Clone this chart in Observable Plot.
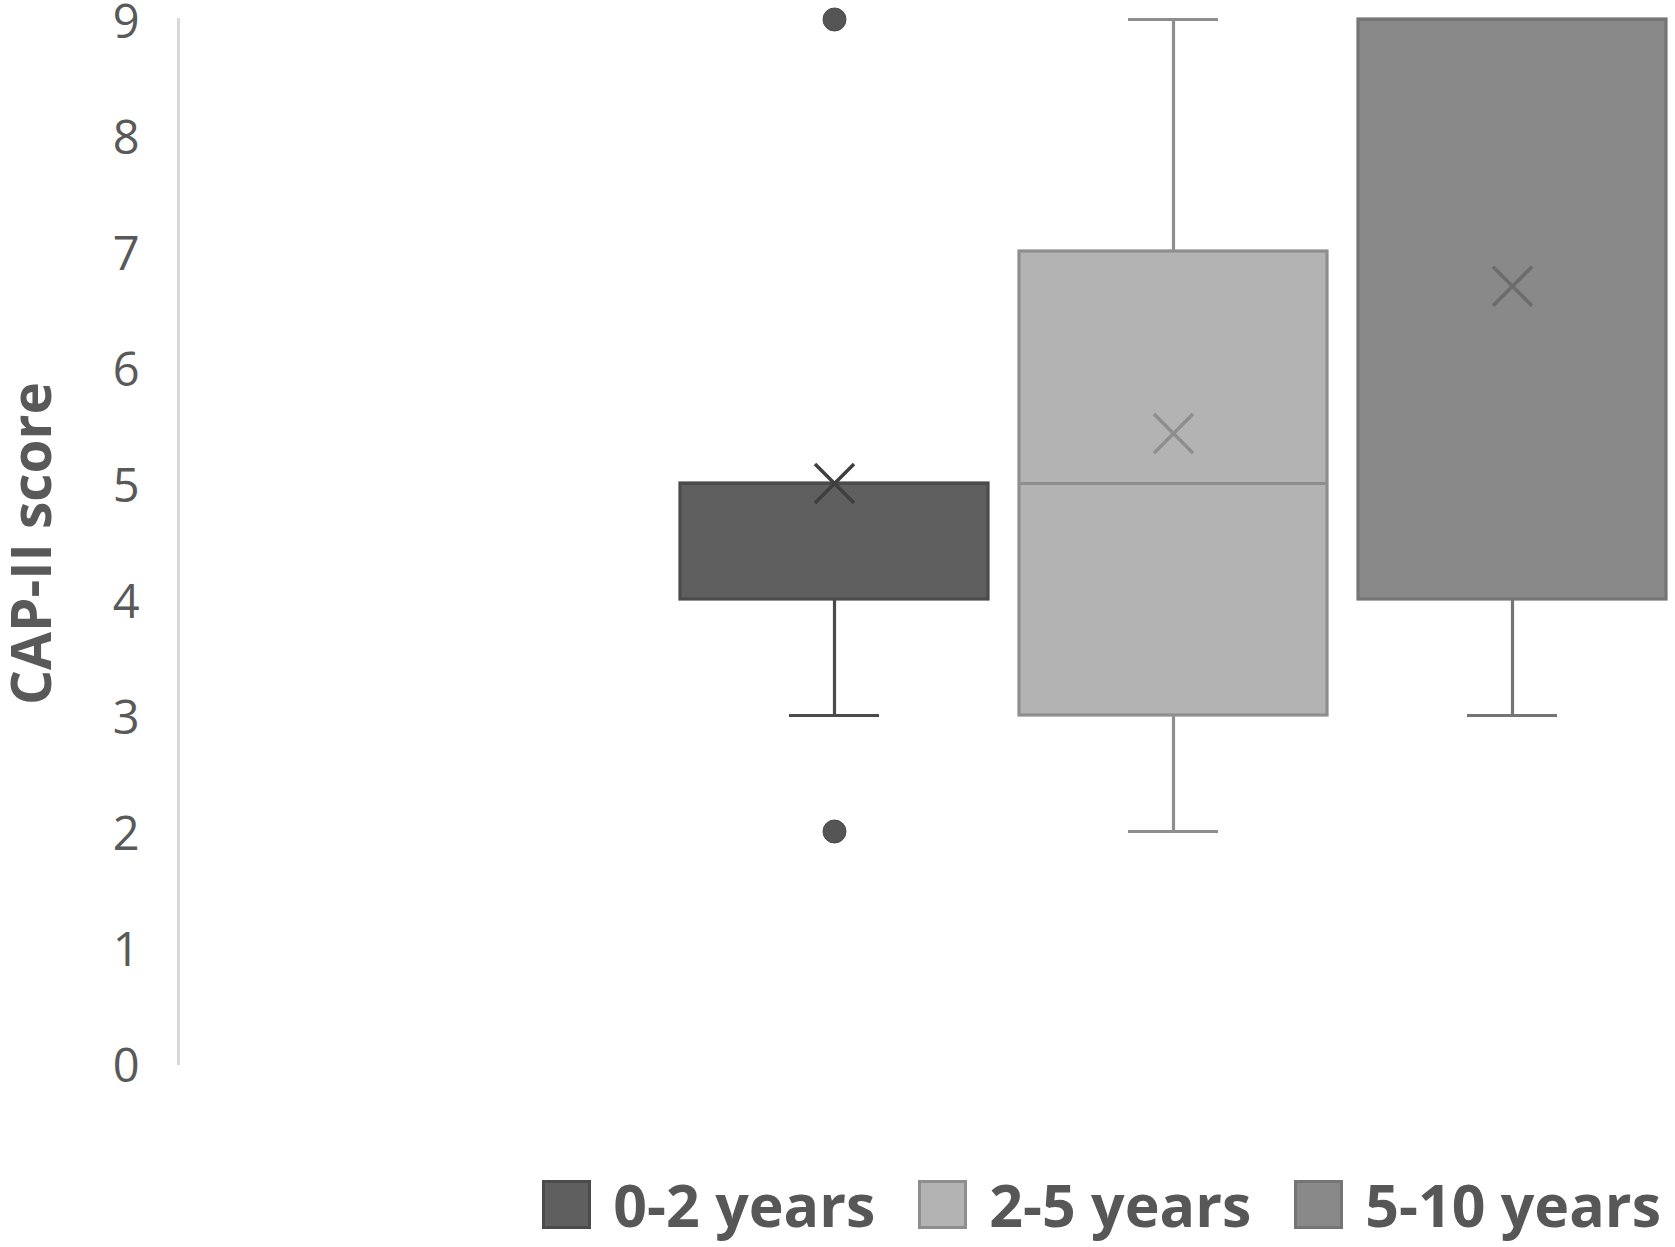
<!DOCTYPE html>
<html>
<head>
<meta charset="utf-8">
<script src="https://cdn.jsdelivr.net/npm/d3@7"></script>
<script src="https://cdn.jsdelivr.net/npm/@observablehq/plot@0.6"></script>
<style>
  html, body { margin: 0; padding: 0; background: #ffffff; }
  body { width: 1675px; height: 1247px; overflow: hidden; font-family: "Open Sans", sans-serif; }
  #chart svg { overflow: visible; display: block; }
  #legend { display: flex; justify-content: flex-end; align-items: center; padding-right: 14px; margin-top: 64px; height: 60px; }
  .item { display: flex; align-items: center; margin-left: 43px; }
  .swatch { width: 43px; height: 43px; border: 3px solid; margin-right: 22px; }
  .lab { font-family: "Open Sans", sans-serif; font-weight: 700; font-size: 59px; line-height: 60px; color: #575757; white-space: nowrap; }
</style>
</head>
<body>
<div id="chart"></div>
<div id="legend"></div>
<script>
// ---- data ----
const groups = ["0-2 years", "2-5 years", "5-10 years"];
const q1 = [4, 3, 4];
const medians = [5, 5, 9];
const q3 = [5, 7, 9];
const whiskerLow = [3, 2, 3];
const whiskerHigh = [5, 9, 9];
const means = [5.0, 5.43, 6.7];
const outlierGroups = ["0-2 years", "0-2 years"];
const outlierValues = [9, 2];
const yTicks = [0, 1, 2, 3, 4, 5, 6, 7, 8, 9];
const yTitle = "CAP-II score";

// ---- colours ----
const fillColors = ["#5f5f5f", "#b3b3b3", "#898989"];
const strokeColors = ["#4b4b4b", "#8e8e8e", "#757575"];
const meanColors = ["#3f3f3f", "#8e8e8e", "#6c6c6c"];

const rows = groups.map((g, i) => ({
  group: g, q1: q1[i], median: medians[i], q3: q3[i],
  lo: whiskerLow[i], hi: whiskerHigh[i], mean: means[i], idx: i
}));
const caps = [];
rows.forEach(r => {
  if (r.lo < r.q1) caps.push({group: r.group, v: r.lo, idx: r.idx});
  if (r.hi > r.q3) caps.push({group: r.group, v: r.hi, idx: r.idx});
});
const outliers = outlierGroups.map((g, i) => ({group: g, v: outlierValues[i]}));

const W = 1675, H = 1110;
const chart = Plot.plot({
  width: W,
  height: H,
  marginLeft: 178,
  marginRight: 0,
  marginTop: 19,
  marginBottom: 47,
  style: {fontFamily: "Open Sans", fontSize: "48px", color: "#595959", background: "white", overflow: "visible"},
  x: {type: "band", domain: groups, range: [663, 1682], paddingInner: 0.092, paddingOuter: 0.046, axis: null},
  y: {domain: [0, 9], axis: null},
  marks: [
    Plot.frame({anchor: "left", stroke: "#d9d9d9", strokeWidth: 3}),
    Plot.axisY({ticks: yTicks, tickSize: 0, tickPadding: 39, dy: 3, tickFormat: d => String(d), label: null, fontSize: 47, fill: "#595959"}),
    Plot.text([yTitle], {frameAnchor: "left", text: d => d, rotate: -90, dx: -145, dy: 2, fontSize: 55, fontWeight: "bold", fill: "#595959", lineAnchor: "middle", textAnchor: "middle"}),
    Plot.ruleX(rows, {x: "group", y1: "lo", y2: "hi", stroke: d => strokeColors[d.idx], strokeWidth: 3.2}),
    Plot.tickY(caps, {x: "group", y: "v", stroke: d => strokeColors[d.idx], strokeWidth: 3.2, insetLeft: 109, insetRight: 109}),
    Plot.barY(rows, {x: "group", y1: "q1", y2: "q3", fill: d => fillColors[d.idx], stroke: d => strokeColors[d.idx], strokeWidth: 3.2}),
    Plot.tickY(rows, {x: "group", y: "median", stroke: d => strokeColors[d.idx], strokeWidth: 3.2}),
    Plot.dot(rows, {x: "group", y: "mean", symbol: "times", r: 17.8, stroke: d => meanColors[d.idx], strokeWidth: 3.5}),
    Plot.dot(outliers, {x: "group", y: "v", r: 11.5, fill: "#555555", stroke: "#4a4a4a", strokeWidth: 1})
  ]
});
document.getElementById("chart").appendChild(chart);

const legend = document.getElementById("legend");
groups.forEach((g, i) => {
  const item = document.createElement("div");
  item.className = "item";
  const sw = document.createElement("div");
  sw.className = "swatch";
  sw.style.background = fillColors[i];
  sw.style.borderColor = strokeColors[i];
  const lab = document.createElement("span");
  lab.className = "lab";
  lab.textContent = g;
  item.appendChild(sw);
  item.appendChild(lab);
  legend.appendChild(item);
});
</script>
</body>
</html>
